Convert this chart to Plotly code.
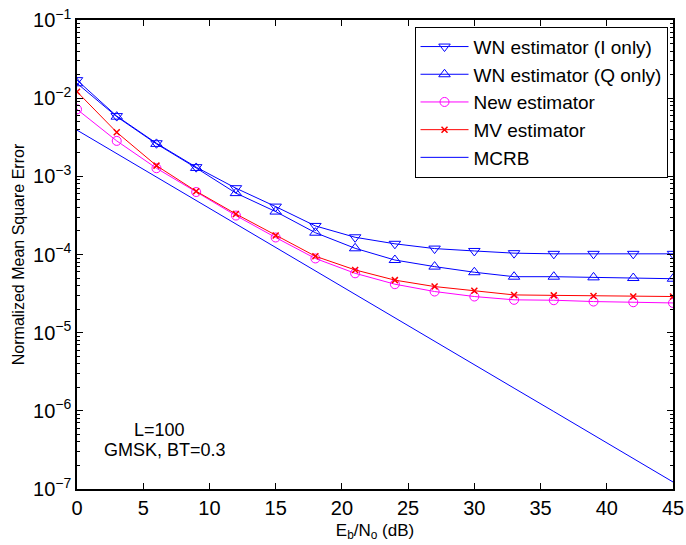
import plotly.graph_objects as go

ebno = [0, 3, 6, 9, 12, 15, 18, 21, 24, 27, 30, 33, 36, 39, 42, 45]

wn_i = [1.7e-2, 5.9e-3, 2.65e-3, 1.31e-3, 7.05e-4, 4.1e-4, 2.32e-4, 1.66e-4,
        1.37e-4, 1.19e-4, 1.11e-4, 1.04e-4, 1.02e-4, 1.02e-4, 1.02e-4, 1.02e-4]
wn_q = [1.55e-2, 5.8e-3, 2.6e-3, 1.28e-3, 6.1e-4, 3.54e-4, 1.9e-4, 1.2e-4,
        8.5e-5, 7.0e-5, 5.93e-5, 5.2e-5, 5.2e-5, 5.1e-5, 5.0e-5, 4.9e-5]
new_est = [7.2e-3, 2.84e-3, 1.27e-3, 6.3e-4, 3.15e-4, 1.65e-4, 8.9e-5, 5.75e-5,
           4.17e-5, 3.36e-5, 2.9e-5, 2.63e-5, 2.6e-5, 2.5e-5, 2.45e-5, 2.4e-5]
mv_est = [1.21e-2, 3.66e-3, 1.37e-3, 6.45e-4, 3.3e-4, 1.75e-4, 9.5e-5, 6.35e-5,
          4.7e-5, 3.89e-5, 3.43e-5, 3.04e-5, 3.0e-5, 2.95e-5, 2.9e-5, 2.9e-5]
mcrb = [3.9e-3, 1.95e-3, 9.8e-4, 4.9e-4, 2.46e-4, 1.23e-4, 6.2e-5, 3.1e-5,
        1.55e-5, 7.8e-6, 3.9e-6, 1.95e-6, 9.8e-7, 4.9e-7, 2.46e-7, 1.23e-7]

xticks = [0, 5, 10, 15, 20, 25, 30, 35, 40, 45]
yticks = [1e-7, 1e-6, 1e-5, 1e-4, 1e-3, 1e-2, 1e-1]
yticktext = ["10<sup>\u22127</sup>", "10<sup>\u22126</sup>", "10<sup>\u22125</sup>",
             "10<sup>\u22124</sup>", "10<sup>\u22123</sup>", "10<sup>\u22122</sup>",
             "10<sup>\u22121</sup>"]
yminor = [m * 10.0 ** e for e in range(-7, -1) for m in range(2, 10)]

BLUE = "rgb(0,0,255)"
RED = "rgb(255,0,0)"
MAG = "rgb(255,0,255)"
FONT = "Liberation Sans, Arial, sans-serif"

fig = go.Figure()
fig.add_trace(go.Scatter(x=ebno, y=wn_i, name="WN estimator (I only)", mode="lines+markers",
                         line=dict(color=BLUE, width=1),
                         marker=dict(symbol="triangle-down-open", size=10, color=BLUE, line=dict(width=1))))
fig.add_trace(go.Scatter(x=ebno, y=wn_q, name="WN estimator (Q only)", mode="lines+markers",
                         line=dict(color=BLUE, width=1),
                         marker=dict(symbol="triangle-up-open", size=10, color=BLUE, line=dict(width=1))))
fig.add_trace(go.Scatter(x=ebno, y=new_est, name="New estimator", mode="lines+markers",
                         line=dict(color=MAG, width=1),
                         marker=dict(symbol="circle-open", size=9, color=MAG, line=dict(width=1))))
fig.add_trace(go.Scatter(x=ebno, y=mv_est, name="MV estimator", mode="lines+markers",
                         line=dict(color=RED, width=1),
                         marker=dict(symbol="x-thin", size=6, color=RED, line=dict(width=1.5, color=RED))))
fig.add_trace(go.Scatter(x=ebno, y=mcrb, name="MCRB", mode="lines",
                         line=dict(color=BLUE, width=1)))

fig.update_layout(
    width=686, height=545,
    margin=dict(l=77, r=13, t=20, b=56, autoexpand=False),
    paper_bgcolor="white", plot_bgcolor="white",
    font=dict(family=FONT, size=18, color="black"),
    showlegend=True,
    legend=dict(x=0.9908, y=0.9857, xanchor="right", yanchor="top",
                bgcolor="white", bordercolor="black", borderwidth=1,
                font=dict(size=19, family=FONT), itemwidth=48,
                tracegroupgap=0),
    annotations=[
        dict(text="L=100", x=0.138, y=(489 - 430) / 469, xref="paper", yref="paper",
             showarrow=False, font=dict(size=18, family=FONT), xanchor="center", yanchor="middle"),
        dict(text="GMSK, BT=0.3", x=0.147, y=(489 - 450) / 469, xref="paper", yref="paper",
             showarrow=False, font=dict(size=18, family=FONT), xanchor="center", yanchor="middle"),
    ],
)
fig.update_xaxes(range=[0, 45], tickvals=xticks, ticks="inside", ticklen=6, tickcolor="black",
                 showline=True, linecolor="black", linewidth=1.5, mirror="allticks",
                 showgrid=False, zeroline=False, tickfont=dict(size=20), automargin=False,
                 title=dict(text="E<sub>b</sub>/N<sub>o</sub> (dB)", font=dict(size=17), standoff=6))
fig.update_yaxes(type="log", range=[-7, -1], tickvals=yticks, ticktext=yticktext,
                 ticks="inside", ticklen=6, tickcolor="black",
                 minor=dict(tickvals=yminor, ticks="inside", ticklen=3, tickcolor="black", showgrid=False),
                 showline=True, linecolor="black", linewidth=1.5, mirror="allticks",
                 showgrid=False, zeroline=False, tickfont=dict(size=20), automargin=False,
                 title=dict(text="Normalized Mean Square Error", font=dict(size=16), standoff=4))

fig.write_html("out.html")
